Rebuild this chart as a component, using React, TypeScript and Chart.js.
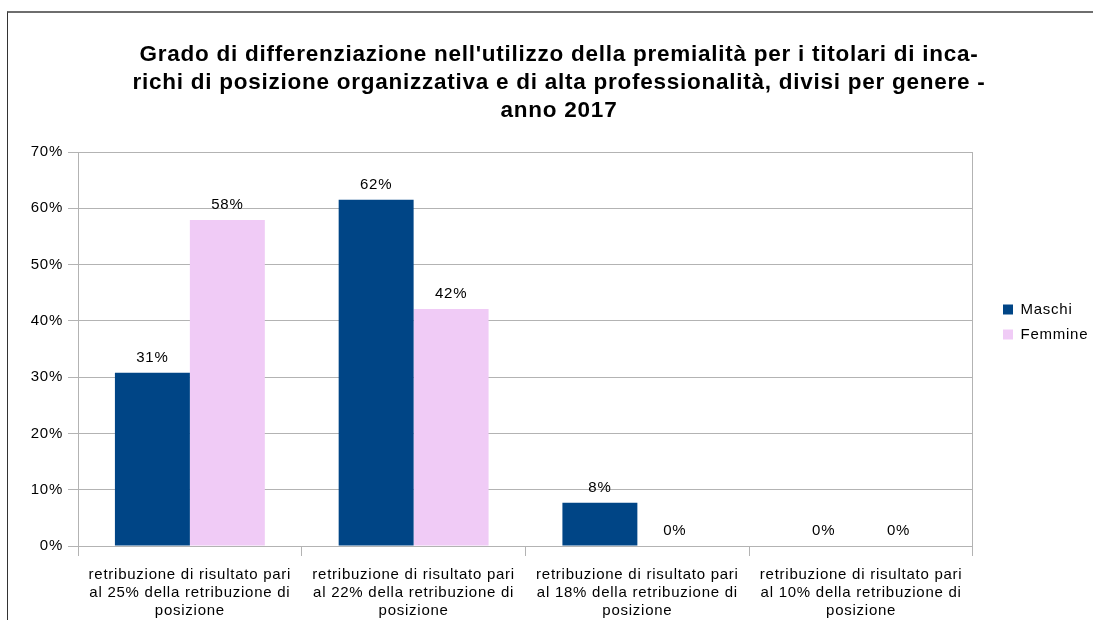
import React, { useEffect, useRef } from 'react';
import { Chart, registerables } from 'chart.js';

Chart.register(...registerables);

const titleLines = [
  "Grado di differenziazione nell'utilizzo della premialità per i titolari di inca-",
  'richi di posizione organizzativa e di alta professionalità, divisi per genere -',
  'anno 2017',
];

const categories = [
  ['retribuzione di risultato pari', 'al 25% della retribuzione di', 'posizione'],
  ['retribuzione di risultato pari', 'al 22% della retribuzione di', 'posizione'],
  ['retribuzione di risultato pari', 'al 18% della retribuzione di', 'posizione'],
  ['retribuzione di risultato pari', 'al 10% della retribuzione di', 'posizione'],
];

const seriesNames = ['Maschi', 'Femmine'];
const maschi = [30.8, 61.5, 7.7, 0];
const femmine = [57.9, 42.1, 0, 0];

const yMin = 0;
const yMax = 70;
const yStep = 10;

const FONT = 'Liberation Sans';
const GRID = '#b3b3b3';
const TEXT = '#000000';
const SPACING = '0.75px';
const LEGEND_TOP = 12;

const spacingPlugin = {
  id: 'spacingPlugin',
  beforeDraw(chart: any) {
    chart.ctx.letterSpacing = SPACING;
  },
  afterLayout(chart: any) {
    const lg = chart.legend;
    if (lg) {
      const h = lg.bottom - lg.top;
      lg.top = LEGEND_TOP;
      lg.bottom = LEGEND_TOP + h;
    }
  },
};

const valueLabels = {
  id: 'valueLabels',
  afterDatasetsDraw(chart: any) {
    const ctx = chart.ctx;
    ctx.save();
    ctx.letterSpacing = SPACING;
    ctx.font = `15px "${FONT}"`;
    ctx.fillStyle = TEXT;
    ctx.textAlign = 'center';
    ctx.textBaseline = 'middle';
    chart.data.datasets.forEach((ds: any, di: number) => {
      const meta = chart.getDatasetMeta(di);
      meta.data.forEach((el: any, i: number) => {
        const v = ds.data[i];
        ctx.fillText(`${Math.round(v)}%`, el.x, el.y - 15);
      });
    });
    ctx.restore();
  },
};

export default function App() {
  const ref = useRef<HTMLCanvasElement>(null);

  useEffect(() => {
    if (!ref.current) return;
    const chart = new Chart(ref.current, {
      type: 'bar',
      data: {
        labels: categories,
        datasets: [
          {
            label: seriesNames[0],
            data: maschi,
            backgroundColor: '#004586',
            borderWidth: 0,
            categoryPercentage: 0.67,
            barPercentage: 1,
          },
          {
            label: seriesNames[1],
            data: femmine,
            backgroundColor: '#f0cbf6',
            borderWidth: 0,
            categoryPercentage: 0.67,
            barPercentage: 1,
          },
        ],
      },
      options: {
        animation: false,
        responsive: false,
        maintainAspectRatio: false,
        layout: { padding: { left: 25, right: 0, top: 0, bottom: 0 } },
        plugins: {
          title: {
            display: true,
            text: titleLines,
            color: TEXT,
            font: { family: FONT, size: 22.5, weight: 'bold', lineHeight: '28px' },
            padding: { top: 41, bottom: 27 },
          },
          legend: {
            position: 'right',
            align: 'center',
            labels: {
              boxWidth: 10,
              boxHeight: 10,
              padding: 10,
              color: TEXT,
              font: { family: FONT, size: 15 },
            },
          },
          tooltip: { enabled: false },
        },
        scales: {
          x: {
            offset: true,
            grid: {
              display: true,
              drawOnChartArea: false,
              drawTicks: true,
              tickLength: 10,
              color: GRID,
            },
            border: { display: true, color: GRID },
            ticks: {
              color: TEXT,
              padding: 10,
              maxRotation: 0,
              autoSkip: false,
              font: { family: FONT, size: 15, lineHeight: '18px' },
            },
            afterFit: (s: any) => {
              s.height = 74;
            },
          },
          y: {
            min: yMin,
            max: yMax,
            grid: { color: GRID, tickLength: 10 },
            border: { display: true, color: GRID },
            ticks: {
              stepSize: yStep,
              color: TEXT,
              padding: 5,
              font: { family: FONT, size: 15 },
              callback: (v: any) => `${v}%`,
            },
            afterFit: (s: any) => {
              s.width = 53;
            },
          },
          y2: {
            position: 'right',
            display: true,
            grid: { display: false, drawTicks: false },
            ticks: { display: false },
            border: { display: true, color: GRID },
            afterFit: (s: any) => {
              s.width = 20;
            },
          },
        },
      },
      plugins: [spacingPlugin, valueLabels],
    });
    return () => chart.destroy();
  }, []);

  return (
    <div
      style={{
        position: 'fixed',
        left: 0,
        top: 0,
        width: 1093,
        height: 620,
        overflow: 'hidden',
        background: '#ffffff',
      }}
    >
      <div
        style={{
          position: 'absolute',
          left: 7,
          top: 11,
          width: 1086,
          height: 609,
          borderTop: '2px solid #6e6e6e',
          borderLeft: '1px solid #333333',
          boxSizing: 'border-box',
        }}
      />
      <canvas
        ref={ref}
        width={1093}
        height={620}
        style={{ position: 'absolute', left: 0, top: 0, width: 1093, height: 620 }}
      />
    </div>
  );
}
